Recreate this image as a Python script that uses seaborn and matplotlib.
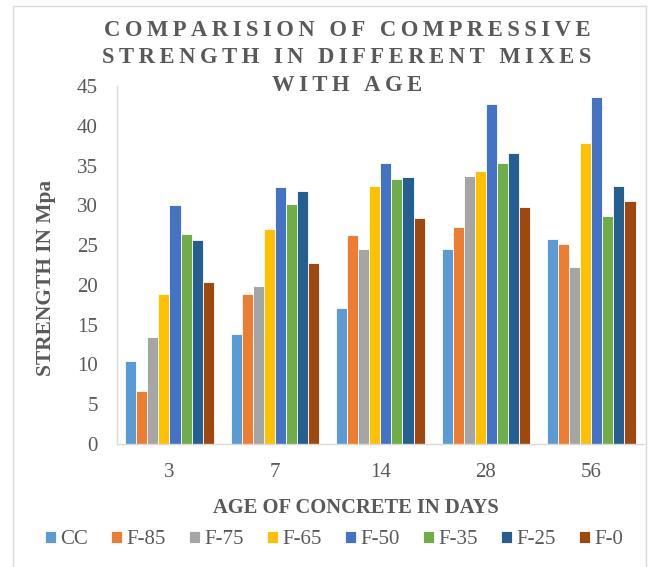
import matplotlib
matplotlib.use("Agg")
import matplotlib.pyplot as plt
import pandas as pd
import seaborn as sns
from matplotlib.patches import Rectangle

# Compressive strength (MPa) by mix and curing age
ages = ["3", "7", "14", "28", "56"]
mixes = ["CC", "F-85", "F-75", "F-65", "F-50", "F-35", "F-25", "F-0"]
cc = [10.4, 13.8, 17.1, 24.5, 25.8]
f85 = [6.7, 18.8, 26.3, 27.3, 25.2]
f75 = [13.5, 19.8, 24.5, 33.7, 22.3]
f65 = [18.9, 27.0, 32.4, 34.3, 37.8]
f50 = [30.0, 32.3, 35.3, 42.8, 43.6]
f35 = [26.4, 30.2, 33.3, 35.3, 28.7]
f25 = [25.7, 31.8, 33.6, 36.6, 32.4]
f0 = [20.4, 22.8, 28.4, 29.8, 30.5]
colors = ["#5B9BD5", "#ED7D31", "#A5A5A5", "#FFC000",
          "#4472C4", "#70AD47", "#255E91", "#9E480E"]

series = [cc, f85, f75, f65, f50, f35, f25, f0]
rows = []
for mix, vals in zip(mixes, series):
    for age, v in zip(ages, vals):
        rows.append({"age": age, "mix": mix, "strength": v})
df = pd.DataFrame(rows)

sns.set_theme(style="white")
plt.rcParams["font.family"] = ["Liberation Serif", "DejaVu Serif"]
text_color = "#595959"

W, H = 651, 567
fig = plt.figure(figsize=(W / 100, H / 100), dpi=100)
left, right, top, bottom = 116.7, 644, 86, 444
ax = fig.add_axes([left / W, 1 - bottom / H, (right - left) / W, (bottom - top) / H])

sns.barplot(data=df, x="age", y="strength", hue="mix", order=ages,
            hue_order=mixes, palette=colors, width=0.84, ax=ax,
            edgecolor="white", linewidth=0.6, errorbar=None, saturation=1)

ax.set_ylim(0, 45)
ax.set_yticks(range(0, 46, 5))
ax.set_xlim(-0.5, len(ages) - 0.5)
ax.tick_params(axis="both", labelsize=15, colors=text_color, length=0)
ax.tick_params(axis="y", pad=13.5)
ax.tick_params(axis="x", pad=13.5)

for side in ["top", "right"]:
    ax.spines[side].set_visible(False)
for side in ["left", "bottom"]:
    ax.spines[side].set_color("#d9d9d9")
    ax.spines[side].set_linewidth(1.0)

ax.set_xlabel("AGE OF CONCRETE IN DAYS", fontsize=14.8, fontweight="bold",
              color=text_color)
ax.xaxis.set_label_coords((356 - left) / (right - left), -(508 - bottom) / (bottom - top))
ax.xaxis.label.set_va("center")
ax.set_ylabel("STRENGTH IN Mpa", fontsize=15.4, fontweight="bold",
              color=text_color)
ax.yaxis.set_label_coords(-(left - 46) / (right - left), (bottom - 278) / (bottom - top))
ax.yaxis.label.set_va("center")

title = "COMPARISION OF COMPRESSIVE\nSTRENGTH IN DIFFERENT MIXES\nWITH AGE"
spaced = "\n".join("\u2009".join(line) for line in title.split("\n"))
fig.text(347 / W, 1 - 20 / H, spaced, ha="center", va="top",
         fontsize=16.3, fontweight="bold", color=text_color, linespacing=1.4)

handles, labels = ax.get_legend_handles_labels()
ax.legend(handles, labels, loc="center", bbox_to_anchor=(334 / W, 1 - 540 / H),
          bbox_transform=fig.transFigure, ncol=8, frameon=False,
          fontsize=15, handlelength=0.53, handleheight=0.53,
          handletextpad=0.2, columnspacing=1.12, labelcolor=text_color,
          borderpad=0, borderaxespad=0)

fig.patches.append(Rectangle((13 / W, -5 / H), 633 / W, (H - 6 + 5) / H,
                             transform=fig.transFigure, fill=False,
                             edgecolor="#d9d9d9", linewidth=1.0))

fig.savefig("out.png", dpi=100)
